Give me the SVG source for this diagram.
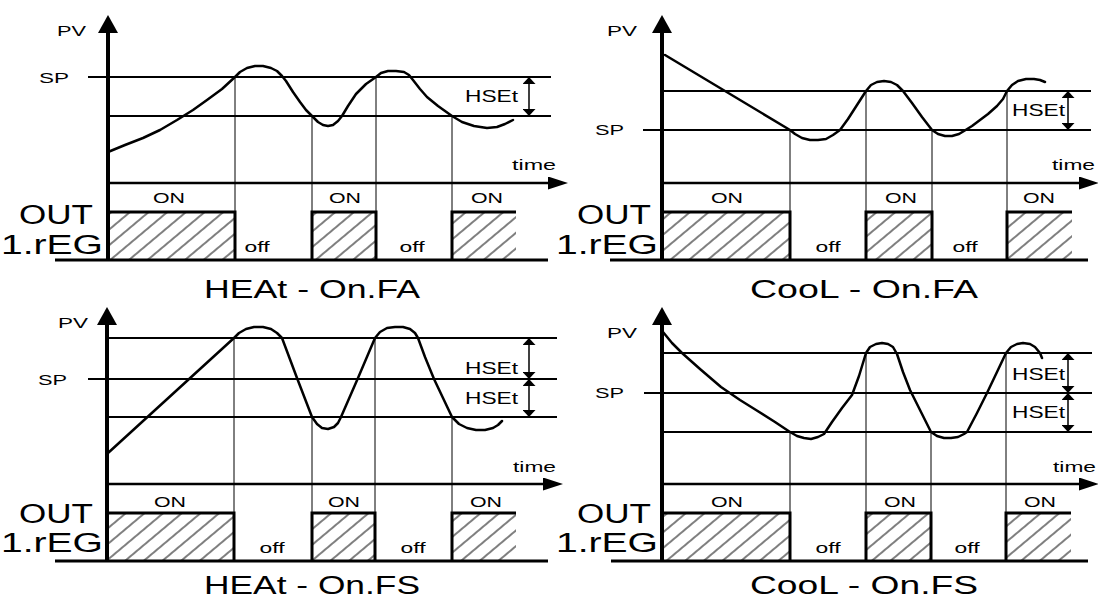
<svg xmlns="http://www.w3.org/2000/svg" width="1098" height="600" viewBox="0 0 1098 600">
<style>
.ax{stroke:#000;stroke-width:4;fill:none}
.ta{stroke:#000;stroke-width:2.5;fill:none}
.ref{stroke:#000;stroke-width:2;fill:none}
.vl{stroke:#000;stroke-width:1;fill:none}
.cv{fill:none;stroke:#000;stroke-width:2.5;stroke-linejoin:round;stroke-linecap:round}
.bx{fill:none;stroke:#000;stroke-width:3;stroke-linejoin:miter}
.hf{fill:url(#hatch);stroke:none}
.base{stroke:#000;stroke-width:3;fill:none}
.dim{stroke:#000;stroke-width:1.5;fill:none}
text{font-family:"Liberation Sans",Arial,sans-serif;fill:#000}
.f15{font-size:15px}
.f17{font-size:17px}
.f14{font-size:14px}
.big{font-size:27px}
.ttl{font-size:25px}
.c{text-anchor:middle}
</style>
<defs>
<pattern id="hatch" patternUnits="userSpaceOnUse" width="12" height="12" patternTransform="rotate(50)">
<line x1="6" y1="-1" x2="6" y2="13" stroke="#000" stroke-width="1"/>
</pattern>
<marker id="ya" markerUnits="userSpaceOnUse" markerWidth="18" markerHeight="20" viewBox="0 0 18 20" refX="0" refY="10" orient="auto"><path d="M0,0 L18,10 L0,20 z" fill="#000"/></marker>
<marker id="xa" markerUnits="userSpaceOnUse" markerWidth="20" markerHeight="13" viewBox="0 0 20 13" refX="0" refY="6.5" orient="auto"><path d="M0,0 L20,6.5 L0,13 z" fill="#000"/></marker>
<marker id="da" markerUnits="userSpaceOnUse" markerWidth="7" markerHeight="13" viewBox="0 0 7 13" refX="0" refY="6.5" orient="auto-start-reverse"><path d="M0,0 L7,6.5 L0,13 z" fill="#000"/></marker>
</defs>
<rect width="1098" height="600" fill="#fff"/>

<!-- Panel 1: HEAt - On.FA -->
<g id="heat-onfa">
<rect class="hf" x="108" y="212" width="127" height="48"/>
<rect class="hf" x="312" y="212" width="64" height="48"/>
<rect class="hf" x="452" y="212" width="64" height="48"/>
<line class="ref" x1="88" y1="77" x2="551" y2="77"/>
<line class="ref" x1="108" y1="116" x2="551" y2="116"/>
<line class="vl" x1="235" y1="77" x2="235" y2="260"/>
<line class="vl" x1="312" y1="116" x2="312" y2="260"/>
<line class="vl" x1="376" y1="77" x2="376" y2="260"/>
<line class="vl" x1="452" y1="116" x2="452" y2="260"/>
<path class="bx" d="M108,212 H235 V260"/>
<path class="bx" d="M312,260 V212 H376 V260"/>
<path class="bx" d="M452,260 V212 H516"/>
<line class="base" x1="55" y1="260" x2="548" y2="260"/>
<line class="ta" x1="108" y1="183" x2="548" y2="183" marker-end="url(#xa)"/>
<line class="ax" x1="108" y1="260" x2="108" y2="33" marker-end="url(#ya)"/>
<line class="dim" x1="529" y1="84" x2="529" y2="109" marker-start="url(#da)" marker-end="url(#da)"/>
<polyline class="cv" points="108,152 125,145 143,138 160,130 177,120 193,110 207,100 222,89 235,77 240,72 247,68 255,66 263,66 271,68 277,71 282,76 286,81 293,92 300,102 306,110 312,116 318,122 323,125 328,126 333,125 338,121 342,116 348,106 356,94 366,84 376,77 381,73 388,71 396,71 404,72 409,75 413,80 420,89 427,97 438,106 452,116 462,122 474,126 487,128 497,127 505,124 513,120"/>
<text class="f15" x="57" y="36" textLength="29" lengthAdjust="spacingAndGlyphs">PV</text>
<text class="f15" x="39" y="83" textLength="30" lengthAdjust="spacingAndGlyphs">SP</text>
<text class="f17" x="465" y="102" textLength="53" lengthAdjust="spacingAndGlyphs">HSEt</text>
<text class="f15" x="512" y="170" textLength="44" lengthAdjust="spacingAndGlyphs">time</text>
<text class="f14 c" x="169" y="203" textLength="32" lengthAdjust="spacingAndGlyphs">ON</text>
<text class="f14 c" x="345" y="203" textLength="32" lengthAdjust="spacingAndGlyphs">ON</text>
<text class="f14 c" x="487" y="203" textLength="32" lengthAdjust="spacingAndGlyphs">ON</text>
<text class="f14 c" x="257" y="252" textLength="25" lengthAdjust="spacingAndGlyphs">off</text>
<text class="f14 c" x="412" y="252" textLength="25" lengthAdjust="spacingAndGlyphs">off</text>
<text class="big" x="19" y="224" textLength="74" lengthAdjust="spacingAndGlyphs">OUT</text>
<text class="big" x="1" y="254" textLength="102" lengthAdjust="spacingAndGlyphs">1.rEG</text>
<text class="ttl" x="204" y="298" textLength="216" lengthAdjust="spacingAndGlyphs">HEAt - On.FA</text>
</g>

<!-- Panel 2: CooL - On.FA -->
<g id="cool-onfa">
<rect class="hf" x="662" y="212" width="128" height="48"/>
<rect class="hf" x="866" y="212" width="66" height="48"/>
<rect class="hf" x="1007" y="212" width="65" height="48"/>
<line class="ref" x1="662" y1="91" x2="1091" y2="91"/>
<line class="ref" x1="643" y1="130" x2="1091" y2="130"/>
<line class="vl" x1="790" y1="130" x2="790" y2="260"/>
<line class="vl" x1="866" y1="91" x2="866" y2="260"/>
<line class="vl" x1="932" y1="130" x2="932" y2="260"/>
<line class="vl" x1="1007" y1="91" x2="1007" y2="260"/>
<path class="bx" d="M662,212 H790 V260"/>
<path class="bx" d="M866,260 V212 H932 V260"/>
<path class="bx" d="M1007,260 V212 H1072"/>
<line class="base" x1="610" y1="260" x2="1088" y2="260"/>
<line class="ta" x1="662" y1="183" x2="1079" y2="183" marker-end="url(#xa)"/>
<line class="ax" x1="662" y1="260" x2="662" y2="33" marker-end="url(#ya)"/>
<line class="dim" x1="1068" y1="98" x2="1068" y2="123" marker-start="url(#da)" marker-end="url(#da)"/>
<polyline class="cv" points="665,55 790,130 795,134 802,138 810,140 818,140 826,139 833,135 840,130 848,119 857,105 866,91 871,85 877,82 884,81 891,82 897,85 903,91 912,103 922,117 932,130 938,134 945,136 952,136 959,134 964,131 972,126 980,120 988,114 997,106 1003,99 1007,91 1012,85 1018,81 1026,79 1034,79 1040,80 1045,82"/>
<text class="f15" x="607" y="36" textLength="30" lengthAdjust="spacingAndGlyphs">PV</text>
<text class="f15" x="595" y="135" textLength="29" lengthAdjust="spacingAndGlyphs">SP</text>
<text class="f17" x="1012" y="116" textLength="53" lengthAdjust="spacingAndGlyphs">HSEt</text>
<text class="f15" x="1052" y="170" textLength="43" lengthAdjust="spacingAndGlyphs">time</text>
<text class="f14 c" x="727" y="203" textLength="32" lengthAdjust="spacingAndGlyphs">ON</text>
<text class="f14 c" x="901" y="203" textLength="32" lengthAdjust="spacingAndGlyphs">ON</text>
<text class="f14 c" x="1039" y="203" textLength="32" lengthAdjust="spacingAndGlyphs">ON</text>
<text class="f14 c" x="828" y="252" textLength="25" lengthAdjust="spacingAndGlyphs">off</text>
<text class="f14 c" x="965" y="252" textLength="25" lengthAdjust="spacingAndGlyphs">off</text>
<text class="big" x="577" y="224" textLength="74" lengthAdjust="spacingAndGlyphs">OUT</text>
<text class="big" x="556" y="254" textLength="102" lengthAdjust="spacingAndGlyphs">1.rEG</text>
<text class="ttl" x="750" y="298" textLength="228" lengthAdjust="spacingAndGlyphs">CooL - On.FA</text>
</g>

<!-- Panel 3: HEAt - On.FS -->
<g id="heat-onfs">
<rect class="hf" x="107" y="513" width="127" height="48"/>
<rect class="hf" x="312" y="513" width="63" height="48"/>
<rect class="hf" x="452" y="513" width="64" height="48"/>
<line class="ref" x1="107" y1="338" x2="557" y2="338"/>
<line class="ref" x1="88" y1="379" x2="557" y2="379"/>
<line class="ref" x1="107" y1="417" x2="557" y2="417"/>
<line class="vl" x1="234" y1="338" x2="234" y2="561"/>
<line class="vl" x1="312" y1="417" x2="312" y2="561"/>
<line class="vl" x1="375" y1="338" x2="375" y2="561"/>
<line class="vl" x1="452" y1="417" x2="452" y2="561"/>
<path class="bx" d="M107,513 H234 V561"/>
<path class="bx" d="M312,561 V513 H375 V561"/>
<path class="bx" d="M452,561 V513 H516"/>
<line class="base" x1="55" y1="561" x2="548" y2="561"/>
<line class="ta" x1="107" y1="484" x2="543" y2="484" marker-end="url(#xa)"/>
<line class="ax" x1="107" y1="561" x2="107" y2="325" marker-end="url(#ya)"/>
<line class="dim" x1="529" y1="345" x2="529" y2="372" marker-start="url(#da)" marker-end="url(#da)"/>
<line class="dim" x1="529" y1="386" x2="529" y2="410" marker-start="url(#da)" marker-end="url(#da)"/>
<polyline class="cv" points="108,453 234,338 239,333 246,329 254,327 263,327 271,329 277,333 282,338 297,378 312,417 317,424 322,428 328,429 334,427 338,423 341,417 358,378 375,338 380,332 387,328 395,327 403,327 410,329 415,333 418,338 425,357 434,379 443,398 452,417 459,424 467,428 476,430 485,430 493,428 498,425 502,421"/>
<text class="f15" x="58" y="328" textLength="30" lengthAdjust="spacingAndGlyphs">PV</text>
<text class="f15" x="38" y="385" textLength="29" lengthAdjust="spacingAndGlyphs">SP</text>
<text class="f17" x="465" y="374" textLength="53" lengthAdjust="spacingAndGlyphs">HSEt</text>
<text class="f17" x="465" y="404" textLength="53" lengthAdjust="spacingAndGlyphs">HSEt</text>
<text class="f15" x="513" y="472" textLength="43" lengthAdjust="spacingAndGlyphs">time</text>
<text class="f14 c" x="170" y="507" textLength="32" lengthAdjust="spacingAndGlyphs">ON</text>
<text class="f14 c" x="344" y="507" textLength="32" lengthAdjust="spacingAndGlyphs">ON</text>
<text class="f14 c" x="486" y="507" textLength="32" lengthAdjust="spacingAndGlyphs">ON</text>
<text class="f14 c" x="272" y="553" textLength="25" lengthAdjust="spacingAndGlyphs">off</text>
<text class="f14 c" x="413" y="553" textLength="25" lengthAdjust="spacingAndGlyphs">off</text>
<text class="big" x="19" y="523" textLength="74" lengthAdjust="spacingAndGlyphs">OUT</text>
<text class="big" x="1" y="552" textLength="102" lengthAdjust="spacingAndGlyphs">1.rEG</text>
<text class="ttl" x="204" y="594" textLength="216" lengthAdjust="spacingAndGlyphs">HEAt - On.FS</text>
</g>

<!-- Panel 4: CooL - On.FS -->
<g id="cool-onfs">
<rect class="hf" x="662" y="513" width="128" height="48"/>
<rect class="hf" x="866" y="513" width="65" height="48"/>
<rect class="hf" x="1006" y="513" width="65" height="48"/>
<line class="ref" x1="662" y1="353" x2="1092" y2="353"/>
<line class="ref" x1="644" y1="393" x2="1092" y2="393"/>
<line class="ref" x1="662" y1="432" x2="1092" y2="432"/>
<line class="vl" x1="790" y1="432" x2="790" y2="561"/>
<line class="vl" x1="866" y1="353" x2="866" y2="561"/>
<line class="vl" x1="931" y1="432" x2="931" y2="561"/>
<line class="vl" x1="1006" y1="353" x2="1006" y2="561"/>
<path class="bx" d="M662,513 H790 V561"/>
<path class="bx" d="M866,561 V513 H931 V561"/>
<path class="bx" d="M1006,561 V513 H1071"/>
<line class="base" x1="611" y1="561" x2="1088" y2="561"/>
<line class="ta" x1="662" y1="484" x2="1079" y2="484" marker-end="url(#xa)"/>
<line class="ax" x1="662" y1="561" x2="662" y2="325" marker-end="url(#ya)"/>
<line class="dim" x1="1068" y1="360" x2="1068" y2="386" marker-start="url(#da)" marker-end="url(#da)"/>
<line class="dim" x1="1068" y1="400" x2="1068" y2="425" marker-start="url(#da)" marker-end="url(#da)"/>
<polyline class="cv" points="663,332 672,343 682,353 700,369 721,387 740,400 756,410 775,422 790,432 797,436 804,438 811,439 818,437 824,434 832,422 842,408 852,395 859,376 866,353 870,347 876,344 882,343 888,344 893,347 897,354 903,372 910,390 920,410 931,432 937,436 944,438 951,438 958,437 964,434 967,432 977,413 987,393 997,372 1006,353 1011,347 1017,344 1023,343 1030,344 1035,347 1040,353 1042,358"/>
<text class="f15" x="607" y="338" textLength="30" lengthAdjust="spacingAndGlyphs">PV</text>
<text class="f15" x="595" y="398" textLength="29" lengthAdjust="spacingAndGlyphs">SP</text>
<text class="f17" x="1012" y="380" textLength="53" lengthAdjust="spacingAndGlyphs">HSEt</text>
<text class="f17" x="1012" y="418" textLength="53" lengthAdjust="spacingAndGlyphs">HSEt</text>
<text class="f15" x="1053" y="472" textLength="43" lengthAdjust="spacingAndGlyphs">time</text>
<text class="f14 c" x="727" y="507" textLength="32" lengthAdjust="spacingAndGlyphs">ON</text>
<text class="f14 c" x="900" y="507" textLength="32" lengthAdjust="spacingAndGlyphs">ON</text>
<text class="f14 c" x="1040" y="507" textLength="32" lengthAdjust="spacingAndGlyphs">ON</text>
<text class="f14 c" x="828" y="553" textLength="25" lengthAdjust="spacingAndGlyphs">off</text>
<text class="f14 c" x="967" y="553" textLength="25" lengthAdjust="spacingAndGlyphs">off</text>
<text class="big" x="577" y="523" textLength="74" lengthAdjust="spacingAndGlyphs">OUT</text>
<text class="big" x="556" y="552" textLength="102" lengthAdjust="spacingAndGlyphs">1.rEG</text>
<text class="ttl" x="750" y="594" textLength="228" lengthAdjust="spacingAndGlyphs">CooL - On.FS</text>
</g>
</svg>
